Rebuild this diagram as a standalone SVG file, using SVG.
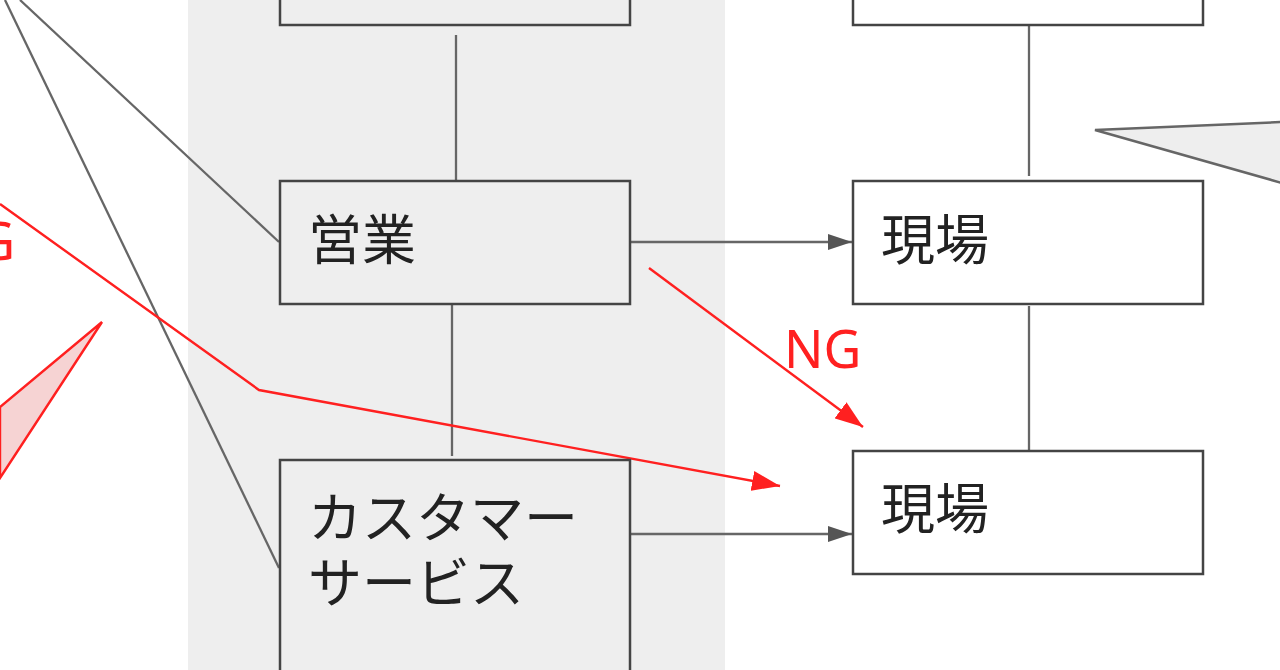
<svg xmlns="http://www.w3.org/2000/svg" width="1280" height="670" viewBox="0 0 1280 670">
<style>
.box{stroke:#444;stroke-width:2.5}
.lf{fill:#eeeeee}
.rt{fill:#ffffff}
.lbl{font-family:"Noto Sans CJK JP","Noto Sans",sans-serif;font-size:54px;fill:#222}
.ln{stroke:#666;stroke-width:2.3;fill:none}
.red{stroke:#ff2020;stroke-width:2.4;fill:none}
.ng{font-family:"Noto Sans","Noto Sans CJK JP",sans-serif;font-size:52px;fill:#ff2020}
</style>
<defs>
<marker id="ag" viewBox="0 0 24 16" refX="24" refY="8" markerWidth="24" markerHeight="16" markerUnits="userSpaceOnUse" orient="auto">
<path d="M0,0 L24,8 L0,16 Z" fill="#555"/>
</marker>
<marker id="ar" viewBox="0 0 28 20" refX="28" refY="10" markerWidth="28" markerHeight="20" markerUnits="userSpaceOnUse" orient="auto">
<path d="M0,0 L28,10 L0,20 Z" fill="#ff2020"/>
</marker>
</defs>
<rect x="0" y="0" width="1280" height="670" fill="#ffffff"/>
<rect id="band" x="188" y="0" width="537" height="670" fill="#eeeeee"/>
<g id="callouts">
<path d="M0,407 L102,322 L0,478 Z" fill="#f6d3d3" stroke="#ff2020" stroke-width="2.4"/>
<path d="M1282,122 L1095,130 L1282,183 Z" fill="#eeeeee" stroke="#666" stroke-width="2.5"/>
</g>
<g id="connectors">
<line class="ln" x1="456" y1="35" x2="456" y2="181"/>
<line class="ln" x1="1029" y1="25" x2="1029" y2="176"/>
<line class="ln" x1="452" y1="305" x2="452" y2="456"/>
<line class="ln" x1="1029" y1="306" x2="1029" y2="453"/>
<line class="ln" x1="631" y1="242" x2="852" y2="242" marker-end="url(#ag)"/>
<line class="ln" x1="631" y1="534" x2="852" y2="534" marker-end="url(#ag)"/>
<line class="ln" x1="20" y1="0" x2="279" y2="242"/>
<line class="ln" x1="5" y1="0" x2="279" y2="568"/>
<polyline class="red" points="0,204 259,390 780,486" marker-end="url(#ar)"/>
<line class="red" x1="649" y1="268" x2="863" y2="427" marker-end="url(#ar)"/>
<text class="ng" x="784" y="368">NG</text>
<text class="ng" x="15" y="260" text-anchor="end">NG</text>
</g>
<g id="top-left">
<rect class="box lf" x="280" y="-30" width="350" height="55"/>
</g>
<g id="top-right">
<rect class="box rt" x="853" y="-30" width="350" height="55"/>
</g>
<g id="eigyo">
<rect class="box lf" x="280" y="181" width="350" height="123"/>
<text class="lbl" x="308" y="260">営業</text>
</g>
<g id="genba1">
<rect class="box rt" x="853" y="181" width="350" height="123"/>
<text class="lbl" x="881" y="260">現場</text>
</g>
<g id="cs">
<rect class="box lf" x="280" y="460" width="350" height="230"/>
<text class="lbl" x="308" y="538">カスタマー</text>
<text class="lbl" x="308" y="603">サービス</text>
</g>
<g id="genba2">
<rect class="box rt" x="853" y="451" width="350" height="123"/>
<text class="lbl" x="881" y="529">現場</text>
</g>
</svg>
